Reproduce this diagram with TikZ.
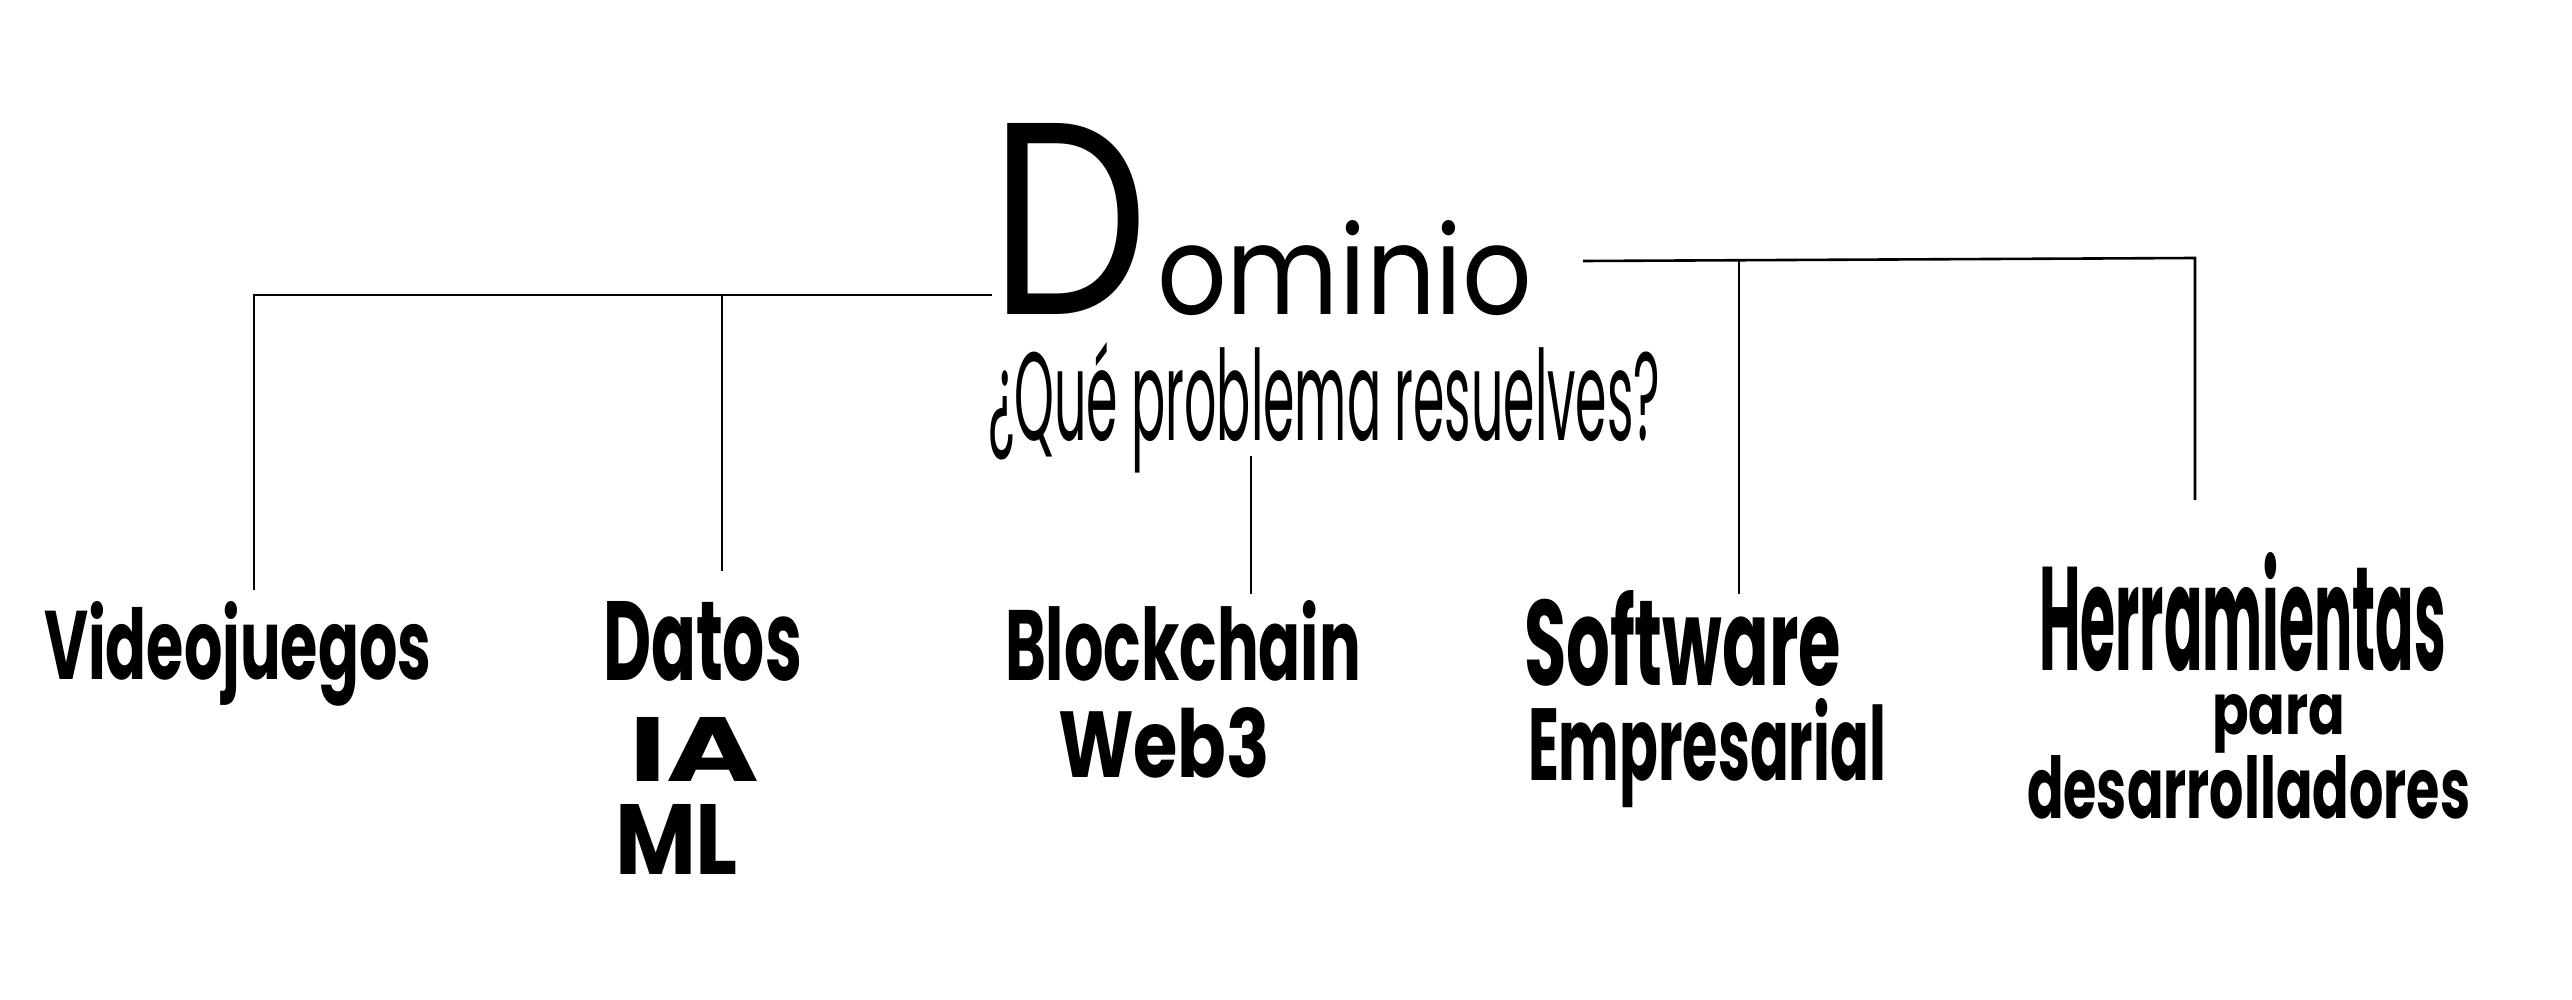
\documentclass[tikz,border=0pt]{standalone}
\usepackage{fontspec}
\usepackage{graphicx}
\setmainfont{Poppins}
\newcommand{\fitt}[3]{\resizebox{#1pt}{#2pt}{#3}}
\tikzset{
  lbl/.style={inner sep=0pt, outer sep=0pt, anchor=base west, font=\bfseries},
  sub/.style={inner sep=0pt, outer sep=0pt, anchor=base west, font=\mdseries},
  conn/.style={line width=2.6pt, line cap=butt, line join=miter, black}
}
\begin{document}
\begin{tikzpicture}[x=1pt,y=-1pt]
\fill[white] (0,0) rectangle (2572,1000);
\useasboundingbox (0,0) rectangle (2572,1000);
% title
\node[sub] (dominio) at (990,314) {\fitt{158}{191}{D}\hspace{9pt}\fitt{375}{94}{ominio}};
\node[sub] (pregunta) at (988,440) {\fitt{672}{98}{¿Qué problema resuelves?}};
% leaves
\node[lbl] (video) at (44,679) {\fitt{387}{78}{Videojuegos}};
\node[lbl] (datos) at (603,680) {\fitt{199}{79}{Datos}};
\node[lbl] (ia) at (629,781) {\fitt{130}{64}{IA}};
\node[lbl] (ml) at (615,874) {\fitt{123}{70}{ML}};
\node[lbl] (block) at (1005,680) {\fitt{356}{80}{Blockchain}};
\node[lbl] (web) at (1058,777) {\fitt{212}{70}{Web3}};
\node[lbl] (soft) at (1524,685) {\fitt{317}{95}{Software}};
\node[lbl] (empr) at (1528,780) {\fitt{358}{82}{Empresarial}};
\node[lbl] (herr) at (2039,670) {\fitt{407}{118}{Herramientas}};
\node[lbl] (para) at (2212,734) {\fitt{133}{40}{para}};
\node[lbl] (desa) at (2027,818) {\fitt{443}{63}{desarrolladores}};
% connector points
\coordinate (lstart) at (992,295);
\coordinate (lcorner) at (254,295);
\coordinate (lend) at (254,590);
\coordinate (dtop) at (722,295);
\coordinate (dend) at (722,571);
\coordinate (mtop) at (1251,456);
\coordinate (mend) at (1251,594);
\coordinate (rstart) at (1583,261);
\coordinate (rcorner) at (2195,258);
\coordinate (rend) at (2195,500);
\coordinate (stop) at (1739,261);
\coordinate (send) at (1739,594);
% connectors
\draw[conn] (lstart) -- (lcorner) -- (lend);
\draw[conn] (dtop) -- (dend);
\draw[conn] (mtop) -- (mend);
\draw[conn] (rstart) -- (rcorner) -- (rend);
\draw[conn] (stop) -- (send);
\end{tikzpicture}
\end{document}
